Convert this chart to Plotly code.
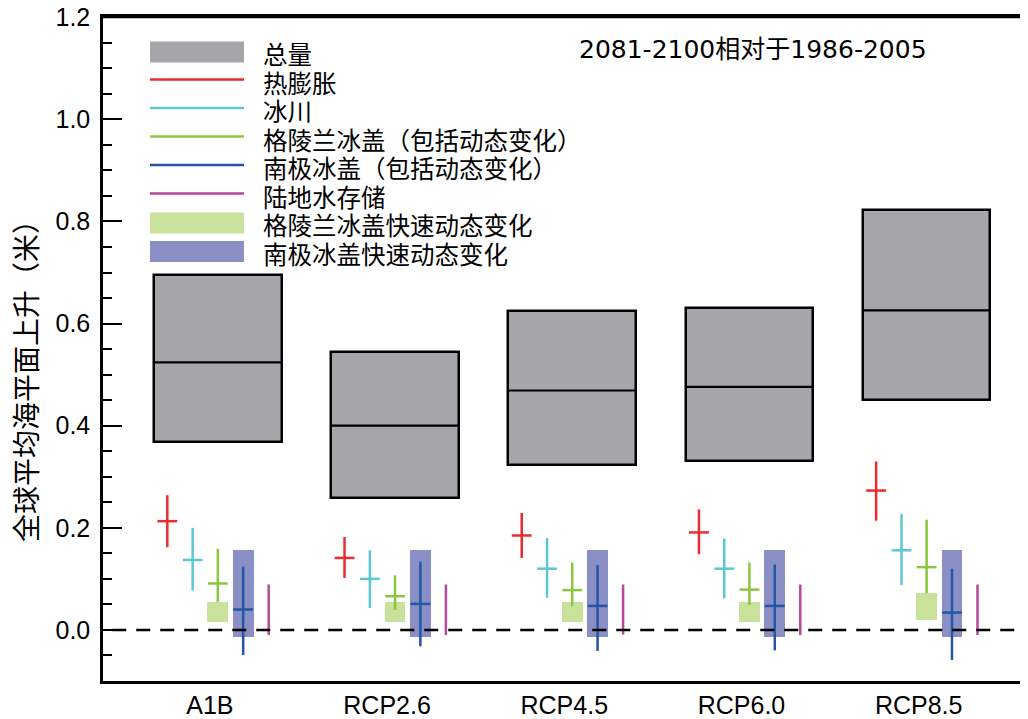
import plotly.graph_objects as go

# ---------------- data ----------------
scenarios = ["A1B", "RCP2.6", "RCP4.5", "RCP6.0", "RCP8.5"]

total_med = [0.524, 0.400, 0.469, 0.476, 0.626]
total_lo = [0.368, 0.259, 0.323, 0.330, 0.451]
total_hi = [0.695, 0.545, 0.625, 0.631, 0.822]

thermal_med = [0.213, 0.141, 0.185, 0.191, 0.273]
thermal_lo = [0.162, 0.102, 0.141, 0.148, 0.214]
thermal_hi = [0.264, 0.182, 0.229, 0.236, 0.330]

glacier_med = [0.137, 0.100, 0.120, 0.120, 0.156]
glacier_lo = [0.077, 0.043, 0.063, 0.062, 0.088]
glacier_hi = [0.200, 0.156, 0.180, 0.179, 0.227]

greenland_med = [0.091, 0.066, 0.078, 0.079, 0.123]
greenland_lo = [0.055, 0.039, 0.047, 0.049, 0.072]
greenland_hi = [0.159, 0.107, 0.132, 0.132, 0.216]

antarctic_med = [0.040, 0.051, 0.047, 0.047, 0.034]
antarctic_lo = [-0.049, -0.032, -0.041, -0.040, -0.059]
antarctic_hi = [0.124, 0.134, 0.127, 0.128, 0.120]

landwater_lo = [-0.010, -0.010, -0.009, -0.010, -0.010]
landwater_hi = [0.089, 0.089, 0.089, 0.089, 0.089]

greenland_rapid_lo = [0.015, 0.015, 0.015, 0.015, 0.019]
greenland_rapid_hi = [0.055, 0.055, 0.055, 0.055, 0.073]

antarctic_rapid_lo = [-0.014, -0.014, -0.014, -0.014, -0.014]
antarctic_rapid_hi = [0.156, 0.156, 0.156, 0.156, 0.156]

legend_labels = ["总量", "热膨胀", "冰川", "格陵兰冰盖（包括动态变化）",
                 "南极冰盖（包括动态变化）", "陆地水存储",
                 "格陵兰冰盖快速动态变化", "南极冰盖快速动态变化"]
title_text = "2081-2100相对于1986-2005"
y_title = "全球平均海平面上升（米）"

# ---------------- style ----------------
GRAY = "#a5a6a9"
RED = "#ee2a2e"
CYAN = "#5ec6d4"
GREEN = "#8cc63f"
BLUE = "#2356a6"
MAGENTA = "#b8489c"
LGREEN = "#c8e29c"
LBLUE = "#8a8fc6"

# the page body has an 8px margin: figure pixel = screen pixel - 8
OFF = 8
W, H = 1028 - OFF, 719 - OFF
L, R, T, B = 103 - OFF, 0, 17 - OFF, 719 - 681
XR = [-0.648, 4.572]
YR = [-0.1, 1.2005]

CJK = "Noto Sans CJK SC"
NUMF = "Liberation Sans, Arial, sans-serif"


def pxx(px):
    """screen px -> paper x"""
    return (px - OFF - L) / (W - L - R)


def pxy(py):
    """screen px -> paper y"""
    return 1 - (py - OFF - T) / (H - T - B)


idx = list(range(len(scenarios)))
fig = go.Figure()

# total boxes
fig.add_trace(go.Bar(
    x=idx, base=total_lo, y=[h - l for h, l in zip(total_hi, total_lo)],
    width=0.72, marker=dict(color=GRAY, line=dict(color="black", width=2.5)),
    showlegend=False, hoverinfo="skip"))

# medians of total
mx, my = [], []
for i, m in zip(idx, total_med):
    mx += [i - 0.36, i + 0.36, None]
    my += [m, m, None]
fig.add_trace(go.Scatter(x=mx, y=my, mode="lines",
                         line=dict(color="black", width=2.2),
                         showlegend=False, hoverinfo="skip"))

# rapid dynamics boxes
fig.add_trace(go.Bar(
    x=[i + 0.0 for i in idx], base=greenland_rapid_lo,
    y=[h - l for h, l in zip(greenland_rapid_hi, greenland_rapid_lo)],
    width=0.118, marker=dict(color=LGREEN, line=dict(width=0)),
    showlegend=False, hoverinfo="skip"))
fig.add_trace(go.Bar(
    x=[i + 0.143 for i in idx], base=antarctic_rapid_lo,
    y=[h - l for h, l in zip(antarctic_rapid_hi, antarctic_rapid_lo)],
    width=0.118, marker=dict(color=LBLUE, line=dict(width=0)),
    showlegend=False, hoverinfo="skip"))


def cross(offset, med, lo, hi, color, hw=0.056):
    xs, ys = [], []
    for i in idx:
        x = i + offset
        xs += [x, x, None]
        ys += [lo[i], hi[i], None]
        if med is not None:
            xs += [x - hw, x + hw, None]
            ys += [med[i], med[i], None]
    fig.add_trace(go.Scatter(x=xs, y=ys, mode="lines",
                             line=dict(color=color, width=2.5),
                             showlegend=False, hoverinfo="skip"))


cross(-0.285, thermal_med, thermal_lo, thermal_hi, RED)
cross(-0.142, glacier_med, glacier_lo, glacier_hi, CYAN)
cross(0.0, greenland_med, greenland_lo, greenland_hi, GREEN)
cross(0.143, antarctic_med, antarctic_lo, antarctic_hi, BLUE)
cross(0.287, None, landwater_lo, landwater_hi, MAGENTA)

shapes = []
# zero dashed line
shapes.append(dict(type="line", xref="paper", yref="y", x0=0.01, x1=1, y0=0, y1=0,
                   line=dict(color="black", width=2.5, dash="14px,10px"),
                   layer="above"))
# top frame line
shapes.append(dict(type="line", xref="paper", yref="paper", x0=0, x1=1, y0=1, y1=1,
                   line=dict(color="black", width=2.5), layer="above"))

# manual legend
annotations = []
row0, step = 52.0, 28.5
kinds = ["box", "line", "line", "line", "line", "line", "box", "box"]
cols = [GRAY, RED, CYAN, GREEN, BLUE, MAGENTA, LGREEN, LBLUE]
for k, (kind, col, lab) in enumerate(zip(kinds, cols, legend_labels)):
    yc = row0 + k * step
    if kind == "box":
        shapes.append(dict(type="rect", xref="paper", yref="paper",
                           x0=pxx(150), x1=pxx(244), y0=pxy(yc - 10.5), y1=pxy(yc + 10.5),
                           fillcolor=col, line=dict(width=0)))
    else:
        shapes.append(dict(type="line", xref="paper", yref="paper",
                           x0=pxx(150), x1=pxx(244), y0=pxy(yc - 1), y1=pxy(yc - 1),
                           line=dict(color=col, width=2.5)))
    annotations.append(dict(text=lab, xref="paper", yref="paper",
                            x=pxx(261), y=pxy(yc + 1.5), xanchor="left", yanchor="middle",
                            showarrow=False, font=dict(family=CJK, size=24.5, color="black")))

annotations.append(dict(text=title_text, xref="paper", yref="paper",
                        x=pxx(753), y=pxy(50), xanchor="center", yanchor="middle",
                        showarrow=False,
                        font=dict(family="DejaVu Sans, Noto Sans CJK SC", size=25, color="black")))
annotations.append(dict(text=y_title, xref="paper", yref="paper",
                        x=pxx(25), y=pxy(374), xanchor="center", yanchor="middle",
                        textangle=-90, showarrow=False,
                        font=dict(family=CJK, size=28, color="black")))

fig.update_layout(
    width=W, height=H,
    margin=dict(l=L, r=R, t=T, b=B, pad=0, autoexpand=False),
    paper_bgcolor="white", plot_bgcolor="white",
    barmode="overlay", bargap=0,
    showlegend=False,
    shapes=shapes, annotations=annotations,
    xaxis=dict(range=XR, showline=True, linecolor="black", linewidth=2.5, mirror=True,
               ticks="", tickmode="array", tickvals=[i - 0.045 for i in idx],
               ticktext=scenarios, tickfont=dict(family=NUMF, size=25, color="black"),
               showgrid=False, zeroline=False, fixedrange=True, automargin=False),
    yaxis=dict(range=YR, showline=True, linecolor="black", linewidth=2.5,
               ticks="inside", ticklen=19, tickwidth=2, tickcolor="black",
               tick0=0, dtick=0.2, tickformat=".1f",
               tickfont=dict(family=NUMF, size=25, color="black"),
               ticklabelstandoff=5, ticklabeloverflow="allow",
               minor=dict(ticks="inside", ticklen=9, tickwidth=2, tickcolor="black",
                          dtick=0.05, tick0=0, showgrid=False),
               showgrid=False, zeroline=False, fixedrange=True, automargin=False),
    yaxis2=dict(range=YR, overlaying="y", side="right", anchor="x",
                ticks="inside", ticklen=6, tickwidth=2, tickcolor="black",
                tick0=0, dtick=0.2, showticklabels=False, showline=False,
                showgrid=False, zeroline=False, fixedrange=True, automargin=False),
)

fig.write_html("out.html")
